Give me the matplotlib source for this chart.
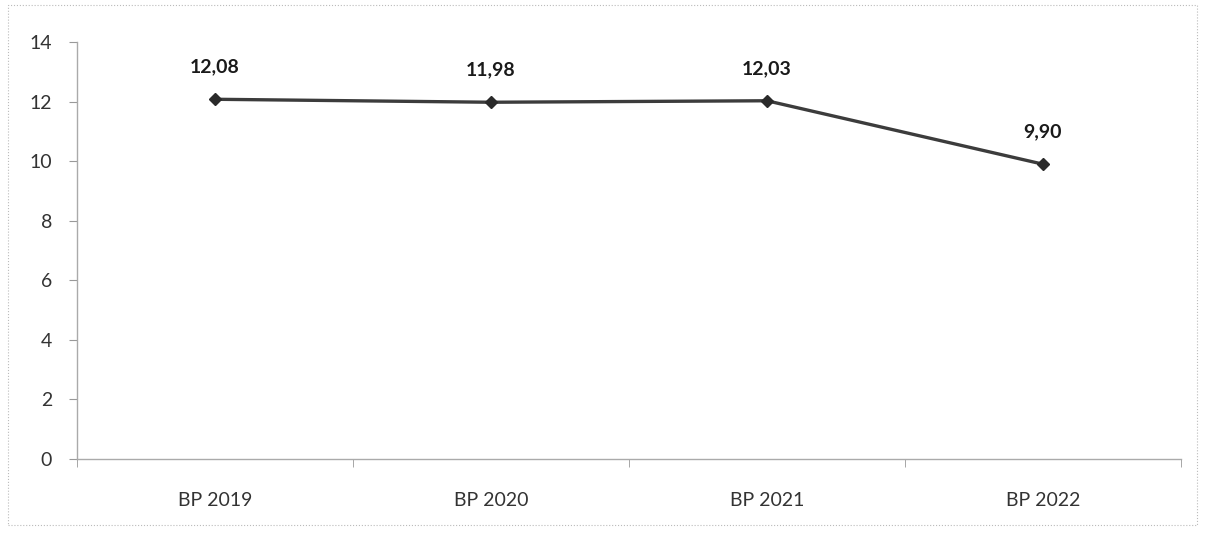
import numpy as np
import matplotlib.pyplot as plt

plt.rcParams['font.family'] = ['Lato', 'DejaVu Sans']

categories = ["BP 2019", "BP 2020", "BP 2021", "BP 2022"]
values = [12.08, 11.98, 12.03, 9.90]
labels = ["12,08", "11,98", "12,03", "9,90"]

fig = plt.figure(figsize=(12.05, 5.33), dpi=100)
ax = fig.add_axes([0.064, 0.139, 0.916, 0.782])

x = np.arange(len(categories))
ax.plot(x, values, color='#3c3c3c', lw=2.4, marker='D', markersize=6,
        markerfacecolor='#2a2a2a', markeredgecolor='#2a2a2a')
for xi, v, t in zip(x, values, labels):
    ax.annotate(t, (xi, v), xytext=(0, 17), textcoords='offset points',
                ha='center', va='bottom', fontsize=14, fontweight='bold',
                color='#1a1a1a')

ax.set_xlim(-0.5, len(categories) - 0.5)
ax.set_ylim(0, 14)
ax.set_yticks(range(0, 15, 2))
ax.set_xticks(x)
ax.set_xticklabels(categories)
ax.set_xticks(np.arange(-0.5, len(categories), 1), minor=True)
ax.tick_params(axis='x', which='major', length=0, pad=24, labelsize=14, labelcolor='#333333')
ax.tick_params(axis='x', which='minor', length=6, color='#999999')
ax.tick_params(axis='y', length=6, color='#999999', pad=12, labelsize=14, labelcolor='#333333')

for s in ['top', 'right']:
    ax.spines[s].set_visible(False)
for s in ['left', 'bottom']:
    ax.spines[s].set_color('#aaaaaa')
    ax.spines[s].set_linewidth(1)

# outer chart border
fig.patches.append(plt.Rectangle((0.007, 0.015), 0.986, 0.975, transform=fig.transFigure,
                                 fill=False, edgecolor='#bbbbbb', lw=0.8, linestyle=':'))

plt.savefig("out.png", dpi=100)
